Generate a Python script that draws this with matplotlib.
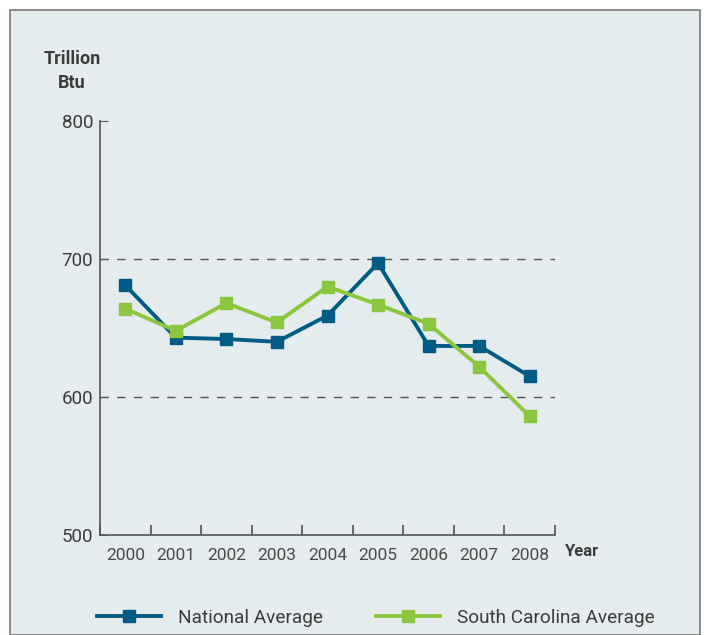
import matplotlib.pyplot as plt
from matplotlib.patches import Rectangle
from matplotlib.lines import Line2D
import numpy as np

# -----------------------------
# Data
# -----------------------------
years = ["2000", "2001", "2002", "2003", "2004", "2005", "2006", "2007", "2008"]
national = [681, 643, 642, 640, 659, 697, 637, 637, 615]
south_carolina = [664, 648, 668, 654, 680, 667, 653, 622, 586]
series_names = ["National Average", "South Carolina Average"]

navy = "#005c84"
green = "#8cc63f"
bg = "#e4ecee"
txt = "#3c3c3c"

plt.rcParams['font.family'] = ['Roboto', 'DejaVu Sans']

fig = plt.figure(figsize=(7.06, 6.35), dpi=100)
fig.patch.set_facecolor("white")

# panel background with grey border
fig.patches.append(Rectangle((10 / 706, 0), 690 / 706, 1 - 10 / 635,
                             transform=fig.transFigure, facecolor=bg,
                             edgecolor="#7a7a7a", linewidth=1.2, zorder=-5))

ax = fig.add_axes([100 / 706, 1 - 535 / 635, 455 / 706, 414 / 635])
ax.set_facecolor("none")

x = np.arange(len(years))
ax.plot(x, national, color=navy, lw=2.8, marker="s", ms=9, zorder=3)
ax.plot(x, south_carolina, color=green, lw=2.8, marker="s", ms=9, zorder=4)

ax.set_xlim(-0.5, len(years) - 0.5)
ax.set_ylim(500, 800)

for v in [600, 700]:
    ax.axhline(v, color="#555555", lw=1, dashes=(6, 6), zorder=1)

for s in ["top", "right"]:
    ax.spines[s].set_visible(False)
ax.spines["left"].set_color("#555555")
ax.spines["bottom"].set_color("#555555")
ax.spines["left"].set_linewidth(1.2)
ax.spines["bottom"].set_linewidth(1.2)

ax.set_yticks([500, 600, 700, 800])
ax.tick_params(axis="y", direction="in", length=6, color="#555555",
               labelsize=13.5, labelcolor=txt, pad=5)
ax.set_xticks(x)
ax.set_xticklabels(years)
ax.tick_params(axis="x", length=0, labelsize=12.5, labelcolor="#4a4a4a", pad=9)
ax.set_xticks(np.arange(len(years) + 1) - 0.5, minor=True)
ax.tick_params(axis="x", which="minor", direction="in", length=7,
               color="#555555", width=1.2)

fig.text(72 / 706, 1 - 71 / 635, "Trillion\nBtu", ha="center", va="center",
         fontsize=13, fontweight="bold", color=txt, linespacing=1.45)
fig.text(564 / 706, 1 - 551 / 635, "Year", ha="left", va="center",
         fontsize=12, fontweight="bold", color=txt)

# two legend entries placed separately
for col, name, x0 in [(navy, series_names[0], 98), (green, series_names[1], 377)]:
    h = Line2D([], [], color=col, lw=2.8, marker="s", ms=9)
    leg = fig.legend([h], [name], loc="center left",
                     bbox_to_anchor=((x0 - 18) / 706, 1 - 618 / 635),
                     frameon=False, fontsize=13.7, handlelength=3.35,
                     handletextpad=0.9, labelcolor=txt)

fig.savefig("out.png", dpi=100)
